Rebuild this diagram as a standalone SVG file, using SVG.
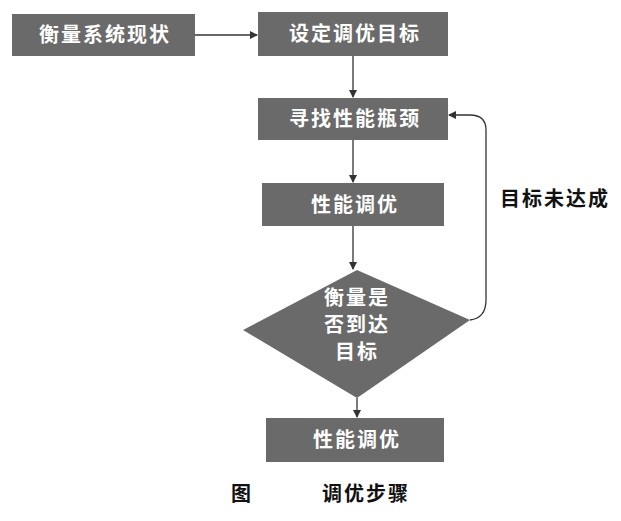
<svg xmlns="http://www.w3.org/2000/svg" width="621" height="521" viewBox="0 0 621 521">
<style>
.b{fill:#6a6a6a}
.t{fill:#fff;font-family:"Noto Sans CJK SC",sans-serif;font-size:20px;font-weight:bold;text-anchor:middle;letter-spacing:2px}
.k{fill:#111;font-family:"Noto Sans CJK SC",sans-serif;font-size:20px;font-weight:bold;text-anchor:middle;letter-spacing:2px}
.c{stroke:#333;stroke-width:1.3;fill:none;marker-end:url(#a)}
</style>
<defs><marker id="a" markerWidth="8" markerHeight="8" refX="7" refY="4" orient="auto" markerUnits="userSpaceOnUse"><path d="M0,0L8,4L0,8z" fill="#333"/></marker></defs>
<rect width="621" height="521" fill="#fff"/>
<g id="connectors">
<path class="c" d="M195,35H257"/>
<path class="c" d="M353,56V97"/>
<path class="c" d="M353,140V182"/>
<path class="c" d="M353,226V269"/>
<path class="c" d="M357,398V417"/>
<path class="c" d="M470,320Q486,318 486,300V130Q486,115 470,115H449"/>
</g>
<g id="n1"><rect class="b" x="12" y="14" width="183" height="42"/><text class="t" x="105" y="42">衡量系统现状</text></g>
<g id="n2"><rect class="b" x="258" y="12" width="190" height="44"/><text class="t" x="355" y="41">设定调优目标</text></g>
<g id="n3"><rect class="b" x="258" y="98" width="190" height="42"/><text class="t" x="355" y="126">寻找性能瓶颈</text></g>
<g id="n4"><rect class="b" x="262" y="183" width="182" height="43"/><text class="t" x="355" y="212">性能调优</text></g>
<g id="n5"><path class="b" d="M357,270L470,320L357,398L243,330Z"/><text class="t" x="357" y="305">衡量是</text><text class="t" x="357" y="332">否到达</text><text class="t" x="357" y="359">目标</text></g>
<g id="n6"><rect class="b" x="266" y="418" width="178" height="44"/><text class="t" x="357" y="447">性能调优</text></g>
<text class="k" x="555" y="206">目标未达成</text>
<text class="k" x="242" y="501">图</text>
<text class="k" x="366" y="501">调优步骤</text>
</svg>
